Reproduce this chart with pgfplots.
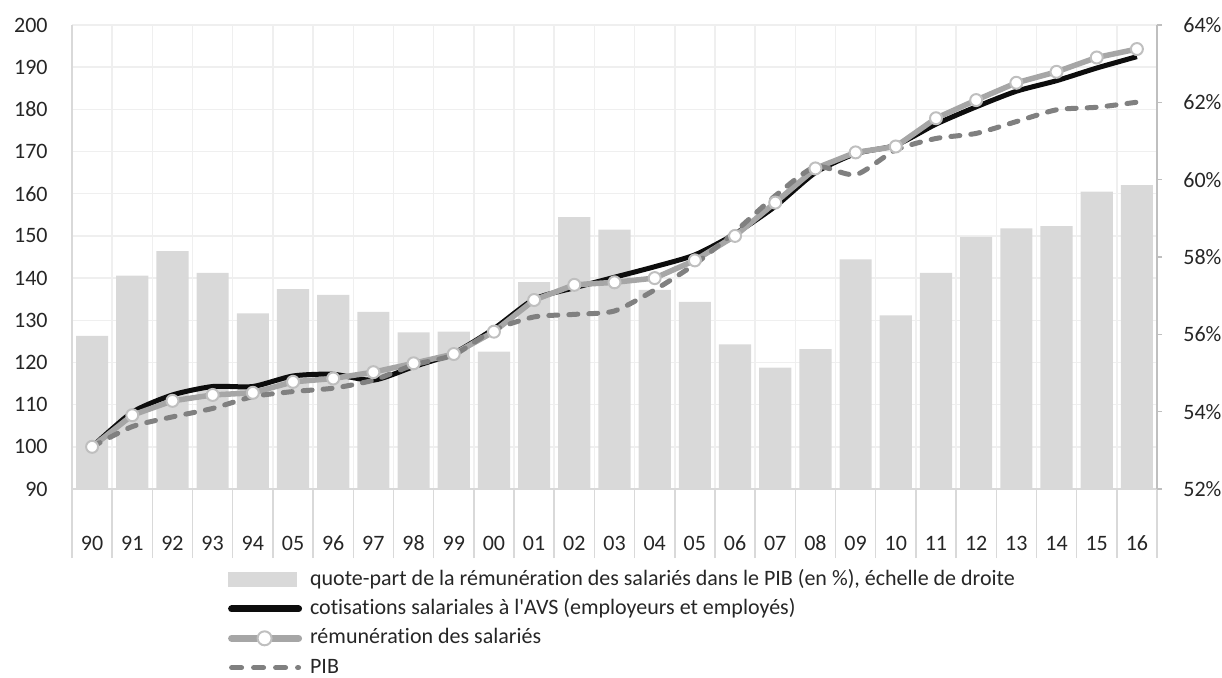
\documentclass[border=0pt]{standalone}
\usepackage{fontspec}
\setmainfont{Carlito}[Ligatures={CommonOff,TeXOff}]
\usepackage{pgfplots}
\pgfplotsset{compat=1.18}
\definecolor{barc}{HTML}{D9D9D9}
\definecolor{gridc}{HTML}{EFEFEF}
\definecolor{sepc}{HTML}{D9D9D9}
\definecolor{spinec}{HTML}{BFBFBF}
\definecolor{txtc}{HTML}{262626}
\definecolor{greyc}{HTML}{A6A6A6}
\definecolor{markc}{HTML}{BFBFBF}
\definecolor{dashc}{HTML}{808080}
\definecolor{blackc}{HTML}{0D0D0D}

\begin{document}
\begin{tikzpicture}
\path[use as bounding box] (0,0) rectangle (611pt,338.5pt);
\pgfplotsset{
  base/.style={scale only axis, width=542.5pt, height=232pt,
    at={(36pt,94pt)}, anchor=south west, xmin=-0.5, xmax=26.5,
    font=\fontsize{11}{13}\selectfont,
    tick label style={text=txtc, font=\fontsize{11}{13}\selectfont},
    /pgf/number format/assume math mode=true},
}
% background: grid, separators, left and x tick labels
\begin{axis}[base, ymin=90, ymax=200, ytick={90,100,...,200},
  xtick={0,...,26},
  xticklabels={90,91,92,93,94,05,96,97,98,99,00,01,02,03,04,05,06,07,08,09,10,11,12,13,14,15,16},
  minor xtick={-0.5,0.5,...,26.5},
  xmajorgrids=false, xminorgrids=true, ymajorgrids=true,
  major grid style={gridc, line width=0.75pt},
  minor grid style={gridc, line width=0.75pt},
  axis x line*=bottom, axis y line*=left,
  x axis line style={draw=sepc, line width=0.75pt, -},
  y axis line style={draw=sepc, line width=0.75pt, -},
  major tick length=0pt, minor tick length=34.5pt, tick align=outside,
  minor tick style={sepc, line width=0.75pt},
  xticklabel style={anchor=center, yshift=-27pt},
  yticklabel style={anchor=east, inner sep=0pt, xshift=-12pt},
]
\end{axis}
% bars on right axis
\begin{axis}[base, ymin=52, ymax=64, ytick={52,54,...,64},
  yticklabels={52\%,54\%,56\%,58\%,60\%,62\%,64\%},
  axis y line*=right, axis x line=none, xtick=\empty,
  y axis line style={draw=spinec, line width=0.75pt, -},
  ytick style={spinec, line width=0.75pt},
  major tick length=2.5pt, tick align=outside,
  yticklabel style={anchor=west, inner sep=0pt, xshift=10.5pt},
  ybar, bar width=0.8,
]
\addplot[fill=barc, draw=none] coordinates {
(0,55.96) (1,57.52) (2,58.15) (3,57.59) (4,56.54) (5,57.17) (6,57.02) (7,56.58)
(8,56.05) (9,56.07) (10,55.55) (11,57.35) (12,59.03) (13,58.71) (14,57.15)
(15,56.84) (16,55.74) (17,55.14) (18,55.62) (19,57.94) (20,56.49) (21,57.59)
(22,58.52) (23,58.74) (24,58.80) (25,59.69) (26,59.86)};
\end{axis}
% lines on left axis
\begin{axis}[base, ymin=90, ymax=200, hide axis,
  legend style={at={(0.1435,-0.1625)}, anchor=north west, draw=none, fill=none,
    inner sep=0pt, column sep=4pt, text=txtc,
    font=\fontsize{11}{13}\selectfont,
    nodes={inner xsep=0pt, inner ysep=2.1pt, text height=8pt, text depth=2.5pt}},
  legend cell align=left,
]
\addlegendimage{legend image code/.code={\fill[barc] (0pt,-3.5pt) rectangle (34pt,3.5pt);}}
\addlegendentry{quote-part de la rémunération des salariés dans le PIB (en \%), échelle de droite}
\addplot[blackc, line width=2.5pt, smooth, tension=0.4,
  legend image code/.code={\draw[blackc, line width=3.5pt, line cap=round] (1.5pt,0pt) -- (35pt,0pt);}]
coordinates {
(0,100) (1,108.2) (2,112.3) (3,114.3) (4,114.3) (5,116.8) (6,117.2) (7,115.8)
(8,119) (9,122.2) (10,128) (11,135) (12,137.7) (13,140.2) (14,142.7) (15,145.5)
(16,150.5) (17,157) (18,165) (19,169.5) (20,171.5) (21,176.5) (22,180.6)
(23,184.3) (24,186.8) (25,189.8) (26,192.5)};
\addlegendentry{cotisations salariales à l'AVS (employeurs et employés)}
\addplot[greyc, line width=2.75pt, mark=*, mark size=3pt,
  mark options={fill=white, draw=markc, line width=1pt, solid},
  legend image code/.code={\draw[greyc, line width=3.5pt, line cap=round] (1.5pt,0pt) -- (35pt,0pt);
    \draw[markc, fill=white, line width=1pt] (18pt,0pt) circle (3.5pt);}]
coordinates {
(0,100) (1,107.5) (2,110.9) (3,112.3) (4,112.8) (5,115.4) (6,116.2) (7,117.7)
(8,119.8) (9,122) (10,127.3) (11,134.8) (12,138.4) (13,139) (14,140) (15,144.2)
(16,150) (17,157.9) (18,166) (19,169.8) (20,171.2) (21,177.9) (22,182.2)
(23,186.3) (24,188.9) (25,192.3) (26,194.3)};
\addlegendentry{rémunération des salariés}
\addplot[dashc, line width=2.5pt, line cap=round, dash pattern=on 4.5pt off 5.5pt,
  smooth, tension=0.4,
  legend image code/.code={\draw[dashc, line width=2.5pt, line cap=round, dash pattern=on 5pt off 6pt] (1.5pt,0pt) -- (35pt,0pt);}]
coordinates {
(0,100) (1,104.8) (2,107.1) (3,109.1) (4,111.9) (5,113.1) (6,113.9) (7,115.8)
(8,119.4) (9,121.8) (10,127.7) (11,130.8) (12,131.4) (13,132.2) (14,137.2)
(15,143.3) (16,151) (17,159.5) (18,166.4) (19,164.5) (20,170.4) (21,173.1)
(22,174.3) (23,177.1) (24,179.9) (25,180.5) (26,181.7)};
\addlegendentry{PIB}
\end{axis}
\end{tikzpicture}
\end{document}
